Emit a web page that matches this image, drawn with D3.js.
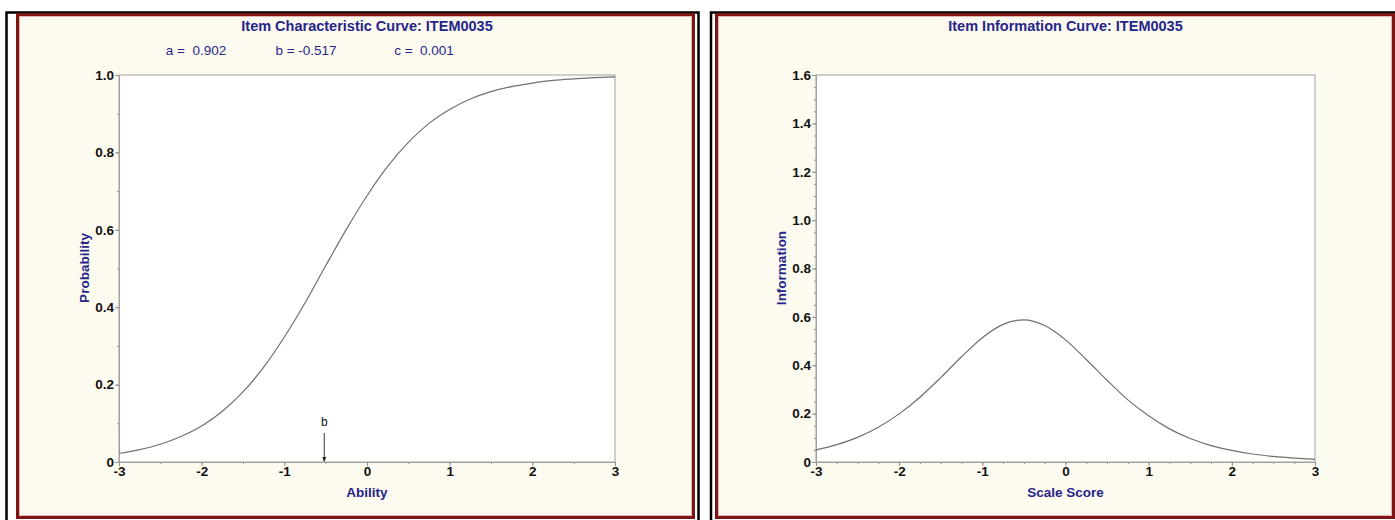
<!DOCTYPE html>
<html>
<head>
<meta charset="utf-8">
<script src="https://cdn.jsdelivr.net/npm/d3@7"></script>
<style>
  body { margin: 0; background: #ffffff; }
  svg { display: block; }
  .tick-label { font-family: "Liberation Sans", Arial, sans-serif; font-weight: bold; font-size: 13.5px; fill: #111; }
  .navy { font-family: "Liberation Sans Narrow", "Liberation Sans", Arial, sans-serif; fill: #25258a; }
</style>
</head>
<body>
<svg id="chart" width="1395" height="520"></svg>
<script>
var itemName = 'ITEM0035';
var paramA = 0.902;
var paramB = -0.517;
var paramC = 0.001;

// ability points
var theta = [-3, -2.75, -2.5, -2.25, -2, -1.75, -1.5, -1.25, -1, -0.75, -0.5, -0.25,
    0, 0.25, 0.5, 0.75, 1, 1.25, 1.5, 1.75, 2, 2.25, 2.5, 2.75, 3];
var probValues = [0.022, 0.032, 0.046, 0.066, 0.093, 0.131, 0.181, 0.245, 0.323, 0.411, 0.507, 0.601,
    0.688, 0.764, 0.826, 0.875, 0.911, 0.938, 0.957, 0.970, 0.979, 0.986, 0.990, 0.993, 0.995];
var infoValues = [0.050, 0.072, 0.102, 0.144, 0.199, 0.268, 0.349, 0.435, 0.514, 0.569, 0.588, 0.564,
    0.505, 0.424, 0.338, 0.257, 0.191, 0.137, 0.097, 0.068, 0.048, 0.033, 0.023, 0.016, 0.011];

var xTicks = [-3, -2, -1, 0, 1, 2, 3];
var probTicks = [0, 0.2, 0.4, 0.6, 0.8, 1.0];
var infoTicks = [0, 0.2, 0.4, 0.6, 0.8, 1.0, 1.2, 1.4, 1.6];

var svg = d3.select('#chart');

function tickFmt(d) { return d === 0 ? '0' : d.toFixed(1); }
function intFmt(d) { return String(d); }

function drawPanel(opt) {
    // black outer frame
    svg.append('rect')
        .attr('x', opt.frameX).attr('y', 12.5)
        .attr('width', opt.frameW).attr('height', 540)
        .attr('fill', 'none').attr('stroke', '#000').attr('stroke-width', 2.5);

    // red border with cream fill
    svg.append('rect')
        .attr('x', opt.boxX + 1.5).attr('y', 14.5)
        .attr('width', opt.boxW - 3).attr('height', 503)
        .attr('fill', '#fdfbf0').attr('stroke', '#7d1515').attr('stroke-width', 3);
    svg.append('rect')
        .attr('x', opt.boxX + 3.5).attr('y', 16.5)
        .attr('width', opt.boxW - 7).attr('height', 499)
        .attr('fill', 'none').attr('stroke', '#e6b4b0').attr('stroke-width', 1);

    var x = d3.scaleLinear().domain([-3, 3]).range([opt.left, opt.right]);
    var y = d3.scaleLinear().domain(opt.yDomain).range([462, 75]);

    var g = svg.append('g');

    g.append('rect')
        .attr('x', opt.left).attr('y', 75)
        .attr('width', opt.right - opt.left).attr('height', 462 - 75)
        .attr('fill', '#fff').attr('stroke', '#a0a0a0').attr('stroke-width', 1);

    // minor ticks
    var xAxisMinor = d3.axisBottom(x).tickValues(d3.range(-3, 3.001, opt.xMinor)).tickSize(2).tickFormat('');
    var yAxisMinor = d3.axisLeft(y).tickValues(d3.range(opt.yDomain[0], opt.yDomain[1] + 0.001, opt.yMinor)).tickSize(2).tickFormat('');
    g.append('g').attr('transform', 'translate(0,462)').call(xAxisMinor);
    g.append('g').attr('transform', 'translate(' + opt.left + ',0)').call(yAxisMinor);

    var xAxis = d3.axisBottom(x).tickValues(xTicks).tickSize(4).tickPadding(0).tickFormat(intFmt);
    var yAxis = d3.axisLeft(y).tickValues(opt.yTicks).tickSize(4).tickPadding(1).tickFormat(tickFmt);
    g.append('g').attr('transform', 'translate(0,462)').call(xAxis);
    g.append('g').attr('transform', 'translate(' + opt.left + ',0)').call(yAxis);

    g.selectAll('.domain').attr('stroke', '#a0a0a0');
    g.selectAll('.tick line').attr('stroke', '#909090');
    g.selectAll('.tick text').attr('class', 'tick-label');

    var line = d3.line()
        .x(function (d, i) { return x(theta[i]); })
        .y(function (d) { return y(d); })
        .curve(d3.curveMonotoneX);

    g.append('path')
        .datum(opt.values)
        .attr('d', line)
        .attr('fill', 'none')
        .attr('stroke', '#707070')
        .attr('stroke-width', 1.2);

    var mid = (opt.left + opt.right) / 2;
    g.append('text').attr('class', 'navy')
        .attr('x', mid).attr('y', 31)
        .attr('text-anchor', 'middle')
        .attr('font-weight', 'bold').attr('font-size', 14.5)
        .text(opt.title);

    g.append('text').attr('class', 'navy')
        .attr('x', mid).attr('y', 497)
        .attr('text-anchor', 'middle')
        .attr('font-weight', 'bold').attr('font-size', 13.5)
        .text(opt.xLabel);

    g.append('text').attr('class', 'navy')
        .attr('transform', 'translate(' + (opt.left - 30) + ',' + 268 + ') rotate(-90)')
        .attr('text-anchor', 'middle')
        .attr('font-weight', 'bold').attr('font-size', 13.5)
        .text(opt.yLabel);

    return { x: x, y: y, g: g };
}

var left = drawPanel({
    frameX: 6.5, frameW: 692, boxX: 16, boxW: 679,
    left: 119, right: 615,
    yDomain: [0, 1], yTicks: probTicks, xMinor: 0.5, yMinor: 0.1,
    values: probValues,
    title: 'Item Characteristic Curve: ' + itemName,
    xLabel: 'Ability', yLabel: 'Probability'
});

var right = drawPanel({
    frameX: 711, frameW: 700, boxX: 715, boxW: 680,
    left: 816, right: 1315,
    yDomain: [0, 1.6], yTicks: infoTicks, xMinor: 0.25, yMinor: 0.05,
    values: infoValues,
    title: 'Item Information Curve: ' + itemName,
    xLabel: 'Scale Score', yLabel: 'Information'
});

// parameter line
var params = [
    { text: 'a =  ' + paramA.toFixed(3), cx: 196 },
    { text: 'b = ' + paramB.toFixed(3), cx: 306 },
    { text: 'c =  ' + paramC.toFixed(3), cx: 424 }
];
left.g.selectAll('.param')
    .data(params)
    .enter().append('text')
    .attr('class', 'navy param')
    .attr('x', function (d) { return d.cx; })
    .attr('y', 55)
    .attr('text-anchor', 'middle')
    .attr('font-size', 13.5)
    .attr('xml:space', 'preserve')
    .style('white-space', 'pre')
    .text(function (d) { return d.text; });

// b marker arrow
var bx = left.x(paramB);
left.g.append('line')
    .attr('x1', bx).attr('x2', bx)
    .attr('y1', 433).attr('y2', 461)
    .attr('stroke', '#333').attr('stroke-width', 1);
left.g.append('path')
    .attr('d', 'M' + (bx - 2) + ',457 L' + (bx + 2) + ',457 L' + bx + ',462 Z')
    .attr('fill', '#222');
left.g.append('text')
    .attr('x', bx).attr('y', 426)
    .attr('text-anchor', 'middle')
    .attr('font-family', 'Liberation Sans, Arial, sans-serif')
    .attr('font-size', 12)
    .attr('fill', '#111')
    .text('b');
</script>
</body>
</html>
